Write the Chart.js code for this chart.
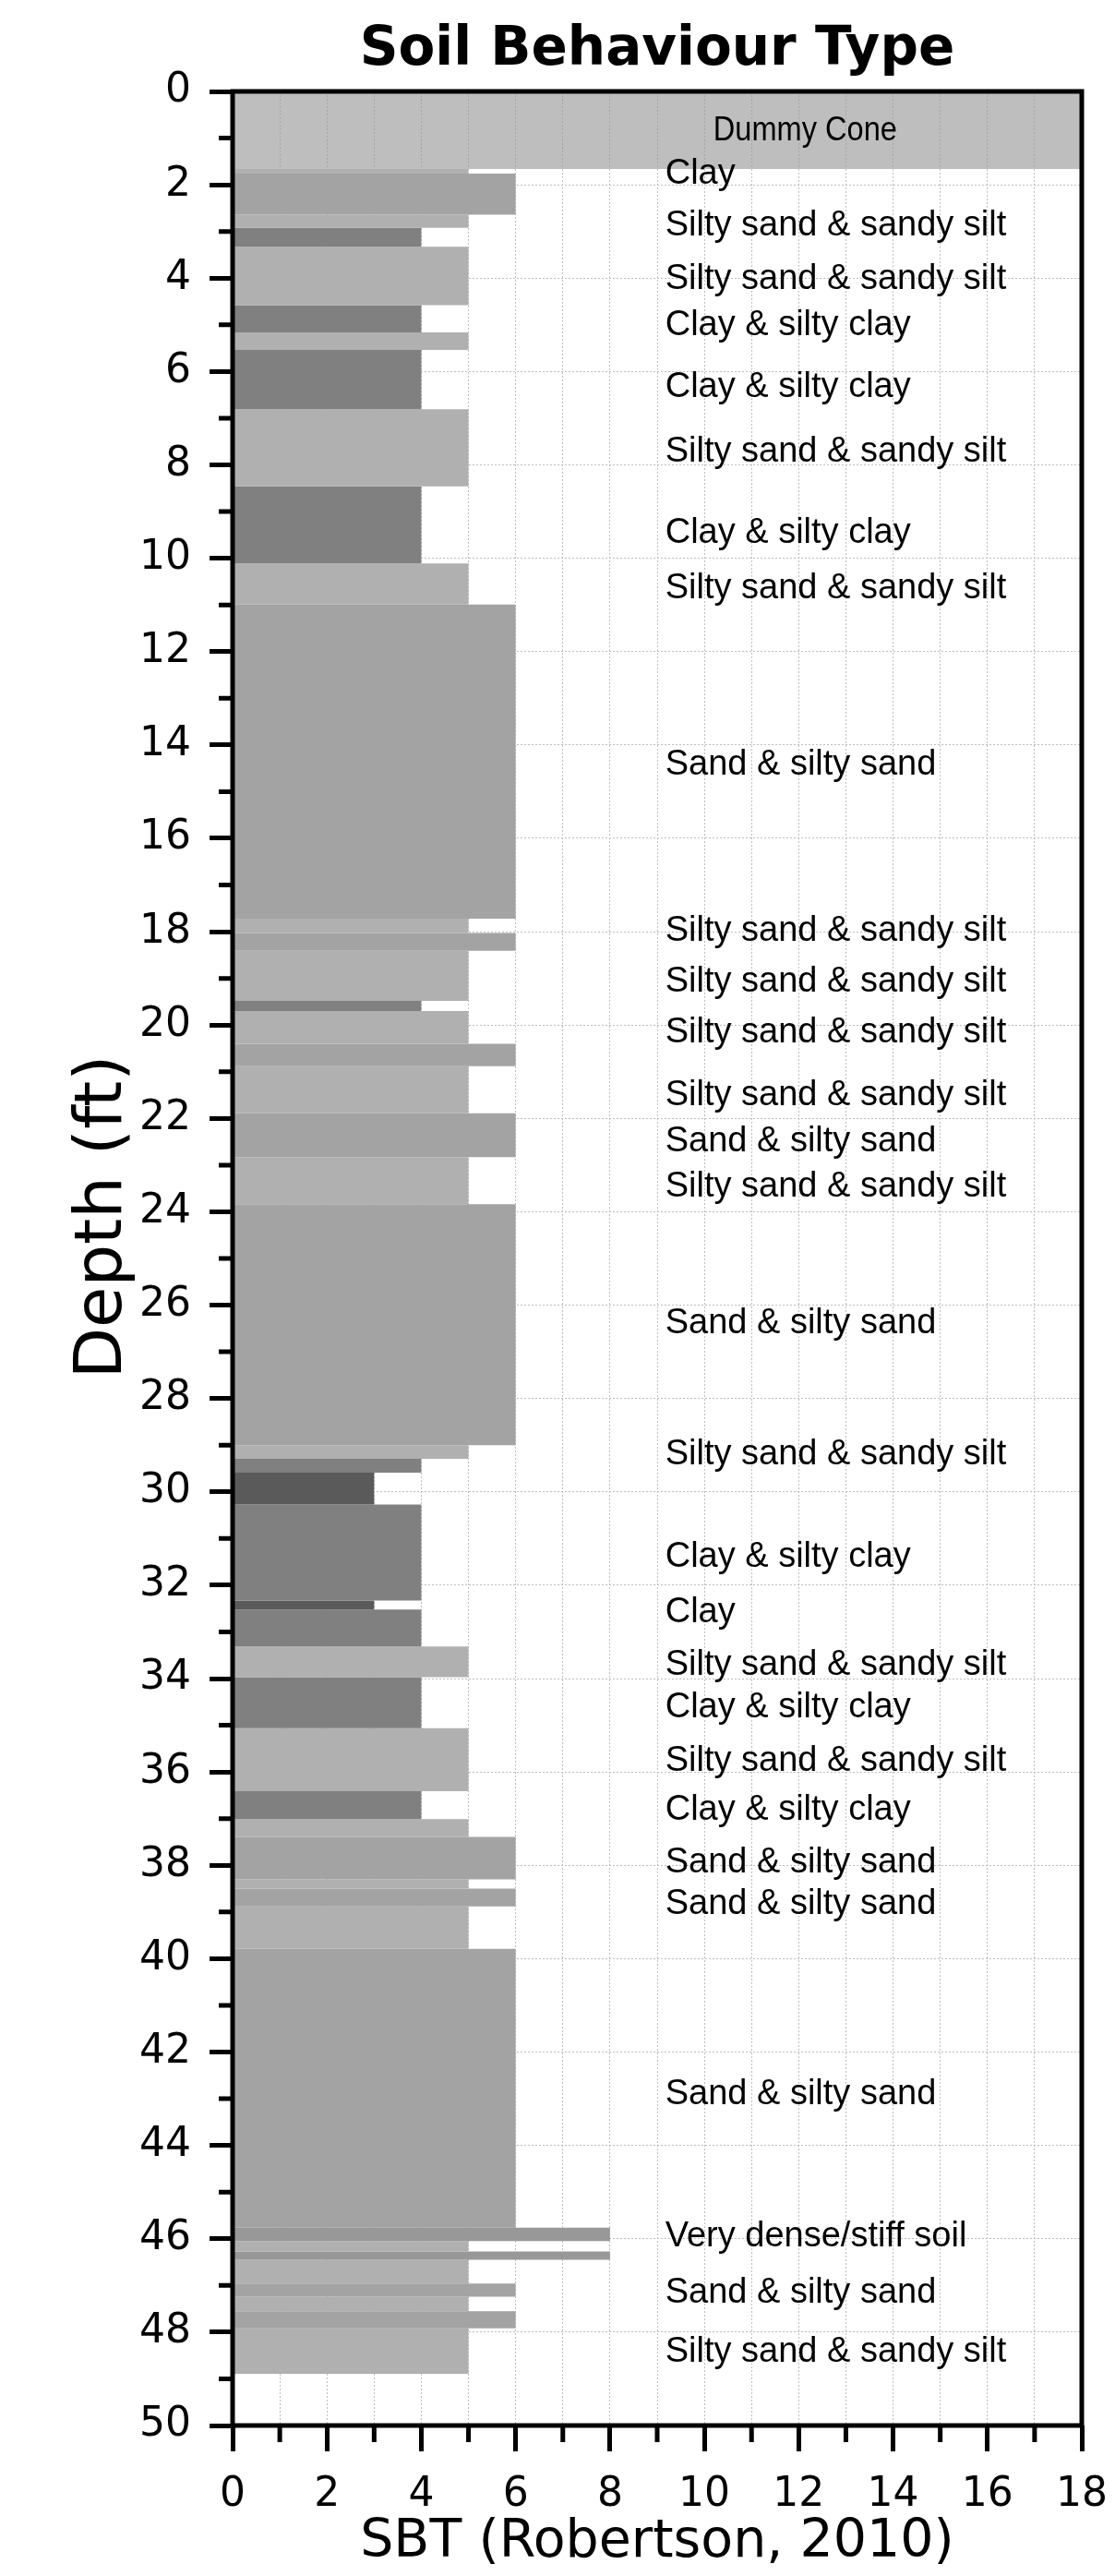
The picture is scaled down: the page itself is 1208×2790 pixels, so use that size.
<!DOCTYPE html>
<html>
<head>
<meta charset="utf-8">
<title>Soil Behaviour Type</title>
<script src="https://cdn.jsdelivr.net/npm/chart.js@4.4.1/dist/chart.umd.min.js"></script>
<style>
  html, body { margin: 0; padding: 0; background: #fff; }
  #chart { display: block; }
</style>
</head>
<body>
<canvas id="chart" width="1208" height="2790"></canvas>
<script>
// Layer boundaries (ft) and the SBT zone of each layer between them
const depthBounds = [
  1.66, 1.76, 2.64, 2.92, 3.33, 4.58, 5.16, 5.54, 6.81, 8.46,
  10.11, 10.99, 17.72, 18.03, 18.41, 19.48, 19.70, 20.40, 20.88, 21.89,
  22.83, 23.84, 29.00, 29.29, 29.59, 30.27, 32.33, 32.52, 33.31, 33.97,
  35.06, 36.41, 37.01, 37.39, 38.30, 38.50, 38.88, 39.79, 45.76, 46.05,
  46.27, 46.45, 46.96, 47.24, 47.55, 47.92, 48.89
];
const layerSbt = [
  5, 6, 5, 4, 5, 4, 5, 4, 5,
  4, 5, 6, 5, 6, 5, 4, 5, 6, 5,
  6, 5, 6, 5, 4, 3, 4, 3, 4, 5,
  4, 5, 4, 5, 6, 5, 6, 5, 6, 8,
  5, 8, 5, 6, 5, 6, 5
];
const dummyConeBottom = 1.66;

// Text annotations beside the profile
const labelDepths = [
  1.78, 2.88, 4.02, 5.02, 6.34, 7.72, 9.46, 10.66, 14.43, 17.98,
  19.07, 20.16, 21.5, 22.5, 23.47, 26.4, 29.21, 31.4, 32.58, 33.72,
  34.63, 35.76, 36.82, 37.94, 38.84, 42.9, 45.95, 47.17, 48.42
];
const labelTexts = [
  'Clay', 'Silty sand & sandy silt', 'Silty sand & sandy silt', 'Clay & silty clay',
  'Clay & silty clay', 'Silty sand & sandy silt', 'Clay & silty clay',
  'Silty sand & sandy silt', 'Sand & silty sand', 'Silty sand & sandy silt',
  'Silty sand & sandy silt', 'Silty sand & sandy silt', 'Silty sand & sandy silt',
  'Sand & silty sand', 'Silty sand & sandy silt', 'Sand & silty sand',
  'Silty sand & sandy silt', 'Clay & silty clay', 'Clay', 'Silty sand & sandy silt',
  'Clay & silty clay', 'Silty sand & sandy silt', 'Clay & silty clay',
  'Sand & silty sand', 'Sand & silty sand', 'Sand & silty sand',
  'Very dense/stiff soil', 'Sand & silty sand', 'Silty sand & sandy silt'
];
const dummyLabel = { text: 'Dummy Cone', depth: 0.85 };

const xTicksMax = 18;
const yTicksMax = 50;

const sbtColors = { 3: '#5a5a5a', 4: '#808080', 5: '#b0b0b0', 6: '#a3a3a3', 8: '#989898' };
const dummyColor = 'rgba(150,150,150,0.62)';
const LABEL_X = 9.17;
const DUMMY_X = 10.19;

function rectData(top, bottom, value) {
  // closed outline of one layer, filled with fill:'shape'
  return [
    { x: 0, y: bottom }, { x: 0, y: top },
    { x: value, y: top }, { x: value, y: bottom }
  ];
}

function layerDataset(top, bottom, value, color) {
  return {
    type: 'line',
    data: rectData(top, bottom, value),
    fill: 'shape',
    backgroundColor: color,
    borderColor: 'transparent',
    borderWidth: 0,
    pointRadius: 0,
    tension: 0
  };
}

const datasets = [layerDataset(0, dummyConeBottom, xTicksMax, dummyColor)];
layerSbt.forEach((v, i) => {
  datasets.push(layerDataset(depthBounds[i], depthBounds[i + 1], v, sbtColors[v]));
});

const soilLabels = {
  id: 'soilLabels',
  afterDatasetsDraw(chart) {
    const { ctx, scales: { x, y } } = chart;
    ctx.save();
    ctx.fillStyle = '#000';
    ctx.textBaseline = 'middle';
    ctx.textAlign = 'left';
    ctx.font = '38px "Liberation Sans", Arial, sans-serif';
    labelDepths.forEach((d, i) => {
      ctx.fillText(labelTexts[i], x.getPixelForValue(LABEL_X), y.getPixelForValue(d));
    });
    ctx.translate(x.getPixelForValue(DUMMY_X), y.getPixelForValue(dummyLabel.depth));
    ctx.scale(0.88, 1);
    ctx.font = '37px "Liberation Sans", Arial, sans-serif';
    ctx.fillText(dummyLabel.text, 0, 0);
    ctx.restore();
  }
};

// plot frame, minor ticks at odd values, and the depth axis title
const frameAndMinorTicks = {
  id: 'frameAndMinorTicks',
  afterDraw(chart) {
    const { ctx, chartArea: a, scales: { x, y } } = chart;
    ctx.save();
    ctx.strokeStyle = '#000';
    ctx.lineWidth = 5;
    ctx.strokeRect(a.left, a.top, a.right - a.left, a.bottom - a.top);
    ctx.beginPath();
    for (let v = 1; v < yTicksMax; v += 2) {
      const py = y.getPixelForValue(v);
      ctx.moveTo(a.left - 15, py);
      ctx.lineTo(a.left, py);
    }
    for (let v = 1; v < xTicksMax; v += 2) {
      const px = x.getPixelForValue(v);
      ctx.moveTo(px, a.bottom);
      ctx.lineTo(px, a.bottom + 18);
    }
    ctx.stroke();

    ctx.translate(112, (a.top + a.bottom) / 2 - 45);
    ctx.rotate(-Math.PI / 2);
    ctx.fillStyle = '#000';
    ctx.textAlign = 'center';
    ctx.textBaseline = 'middle';
    ctx.font = '72px "DejaVu Sans", Verdana, sans-serif';
    ctx.fillText('Depth (ft)', 0, 0);
    ctx.restore();
  }
};

Chart.defaults.font.family = '"DejaVu Sans", Verdana, sans-serif';
Chart.defaults.color = '#000';

const isEven = v => Math.round(v) % 2 === 0;

new Chart(document.getElementById('chart'), {
  type: 'line',
  data: { datasets },
  options: {
    responsive: false,
    animation: false,
    events: [],
    layout: { padding: { left: 0, right: 36, top: 0, bottom: 0 } },
    plugins: {
      legend: { display: false },
      tooltip: { enabled: false },
      title: {
        display: true,
        text: 'Soil Behaviour Type',
        fullSize: false,
        color: '#000',
        font: { size: 58, weight: 'bold' },
        padding: { top: 20, bottom: 9.4 }
      }
    },
    scales: {
      x: {
        type: 'linear',
        min: 0,
        max: xTicksMax,
        ticks: {
          stepSize: 1,
          autoSkip: false,
          maxRotation: 0,
          padding: 6,
          color: '#000',
          font: { size: 44, lineHeight: 1.9 },
          callback: v => (isEven(v) ? String(v) : '')
        },
        grid: {
          color: c => (c.tick && c.tick.value > 0 && c.tick.value < xTicksMax ? '#bdbdbd' : 'transparent'),
          lineWidth: 1,
          tickLength: 28,
          tickWidth: 5,
          tickColor: c => (isEven(c.tick.value) ? '#000' : 'transparent')
        },
        border: { display: false, dash: [2, 2] },
        title: {
          display: true,
          text: 'SBT (Robertson, 2010)',
          color: '#000',
          font: { size: 57 },
          padding: { top: 0, bottom: 2 }
        },
        afterFit(scale) { scale.height = 163; }
      },
      y: {
        type: 'linear',
        reverse: true,
        min: 0,
        max: yTicksMax,
        ticks: {
          stepSize: 1,
          autoSkip: false,
          padding: 20,
          color: '#000',
          font: { size: 44 },
          callback: v => (isEven(v) ? String(v) : '')
        },
        grid: {
          color: c => (c.tick && isEven(c.tick.value) && c.tick.value > 0 && c.tick.value < yTicksMax ? '#bdbdbd' : 'transparent'),
          lineWidth: 1,
          tickLength: 25,
          tickWidth: 5,
          tickColor: c => (isEven(c.tick.value) ? '#000' : 'transparent')
        },
        border: { display: false, dash: [2, 2] },
        title: { display: false },
        afterFit(scale) { scale.width = 252; }
      }
    }
  },
  plugins: [soilLabels, frameAndMinorTicks]
});
</script>
</body>
</html>
